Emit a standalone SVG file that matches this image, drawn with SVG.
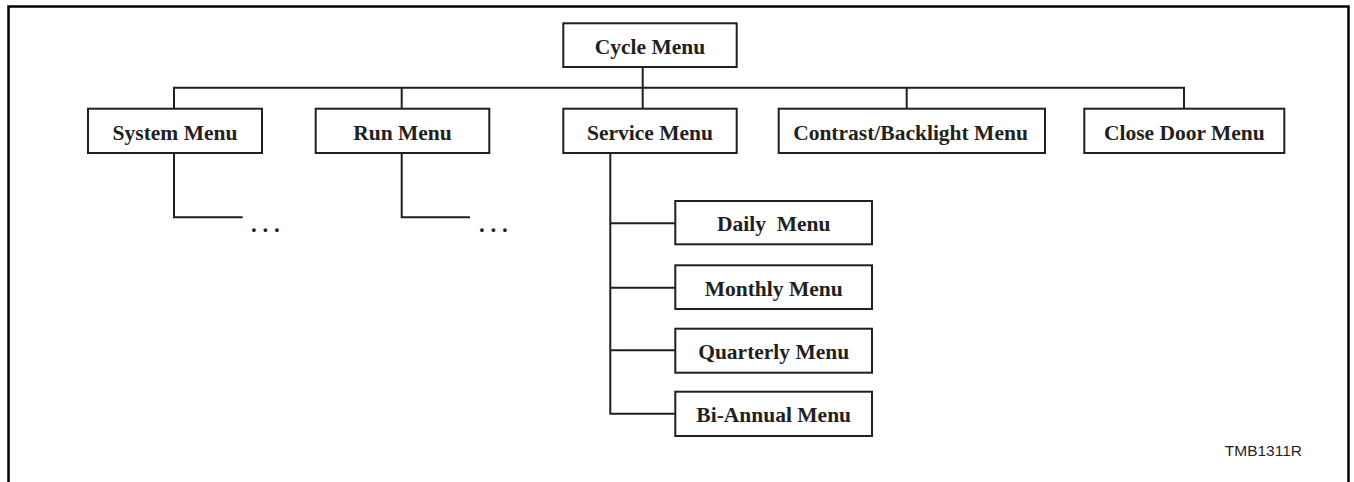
<svg xmlns="http://www.w3.org/2000/svg" width="1354" height="482" viewBox="0 0 1354 482">
<style>
.box{fill:#fff;stroke:#231f20;stroke-width:2}
.lbl{font-family:"Liberation Serif","Times New Roman",serif;font-weight:bold;font-size:21.5px;fill:#231f20;text-anchor:middle}
.ln{fill:none;stroke:#231f20;stroke-width:2}
.dots{font-family:"Liberation Serif","Times New Roman",serif;font-weight:bold;font-size:23px;fill:#231f20}
</style>
<rect width="1354" height="482" fill="#fff"/>
<path d="M8.5,482 V6.5 H1348.5 V482" fill="none" stroke="#000" stroke-width="2.5"/>
<g id="connectors">
<path class="ln" d="M642.7,67 V108.7"/>
<path class="ln" d="M174,108.7 V87.7 H1184 V108.7"/>
<path class="ln" d="M401.7,87.7 V108.7"/>
<path class="ln" d="M906.7,87.7 V108.7"/>
<path class="ln" d="M174,153 V217.3 H242.7"/>
<path class="ln" d="M401.7,153 V217.3 H470"/>
<path class="ln" d="M610.3,154 V413.7 H675.3"/>
<path class="ln" d="M610.3,223.3 H675.3"/>
<path class="ln" d="M610.3,287.7 H675.3"/>
<path class="ln" d="M610.3,350.3 H675.3"/>
</g>
<g id="cycle"><rect class="box" x="563.3" y="23.3" width="173.4" height="43.7"/><text class="lbl" x="650" y="54">Cycle Menu</text></g>
<g id="system"><rect class="box" x="88" y="108.7" width="174" height="44.3"/><text class="lbl" x="175" y="139.5">System Menu</text></g>
<g id="run"><rect class="box" x="315.7" y="108.7" width="173.6" height="44.3"/><text class="lbl" x="402.5" y="139.5">Run Menu</text></g>
<g id="service"><rect class="box" x="563.3" y="108.7" width="173.4" height="44.3"/><text class="lbl" x="650" y="139.5">Service Menu</text></g>
<g id="contrast"><rect class="box" x="778.7" y="108.7" width="266.3" height="44.3"/><text class="lbl" x="910.5" y="139.5">Contrast/Backlight Menu</text></g>
<g id="closedoor"><rect class="box" x="1084.3" y="108.7" width="200" height="44.3"/><text class="lbl" x="1184.3" y="139.5">Close Door Menu</text></g>
<g id="daily"><rect class="box" x="675.3" y="201" width="196.7" height="43.3"/><text class="lbl" x="773.7" y="231" xml:space="preserve">Daily  Menu</text></g>
<g id="monthly"><rect class="box" x="675.3" y="265.3" width="196.7" height="43.7"/><text class="lbl" x="773.7" y="295.5">Monthly Menu</text></g>
<g id="quarterly"><rect class="box" x="675.3" y="328.7" width="196.7" height="44"/><text class="lbl" x="773.7" y="359">Quarterly Menu</text></g>
<g id="biannual"><rect class="box" x="675.3" y="391.7" width="196.7" height="44.3"/><text class="lbl" x="773.7" y="422">Bi-Annual Menu</text></g>
<g id="more1"><text class="dots" x="251" y="231.5" xml:space="preserve">. . .</text></g>
<g id="more2"><text class="dots" x="479" y="231.5" xml:space="preserve">. . .</text></g>
<text x="1302" y="456" font-family="Liberation Sans, Arial, sans-serif" font-size="15.5" fill="#231f20" text-anchor="end">TMB1311R</text>
</svg>
